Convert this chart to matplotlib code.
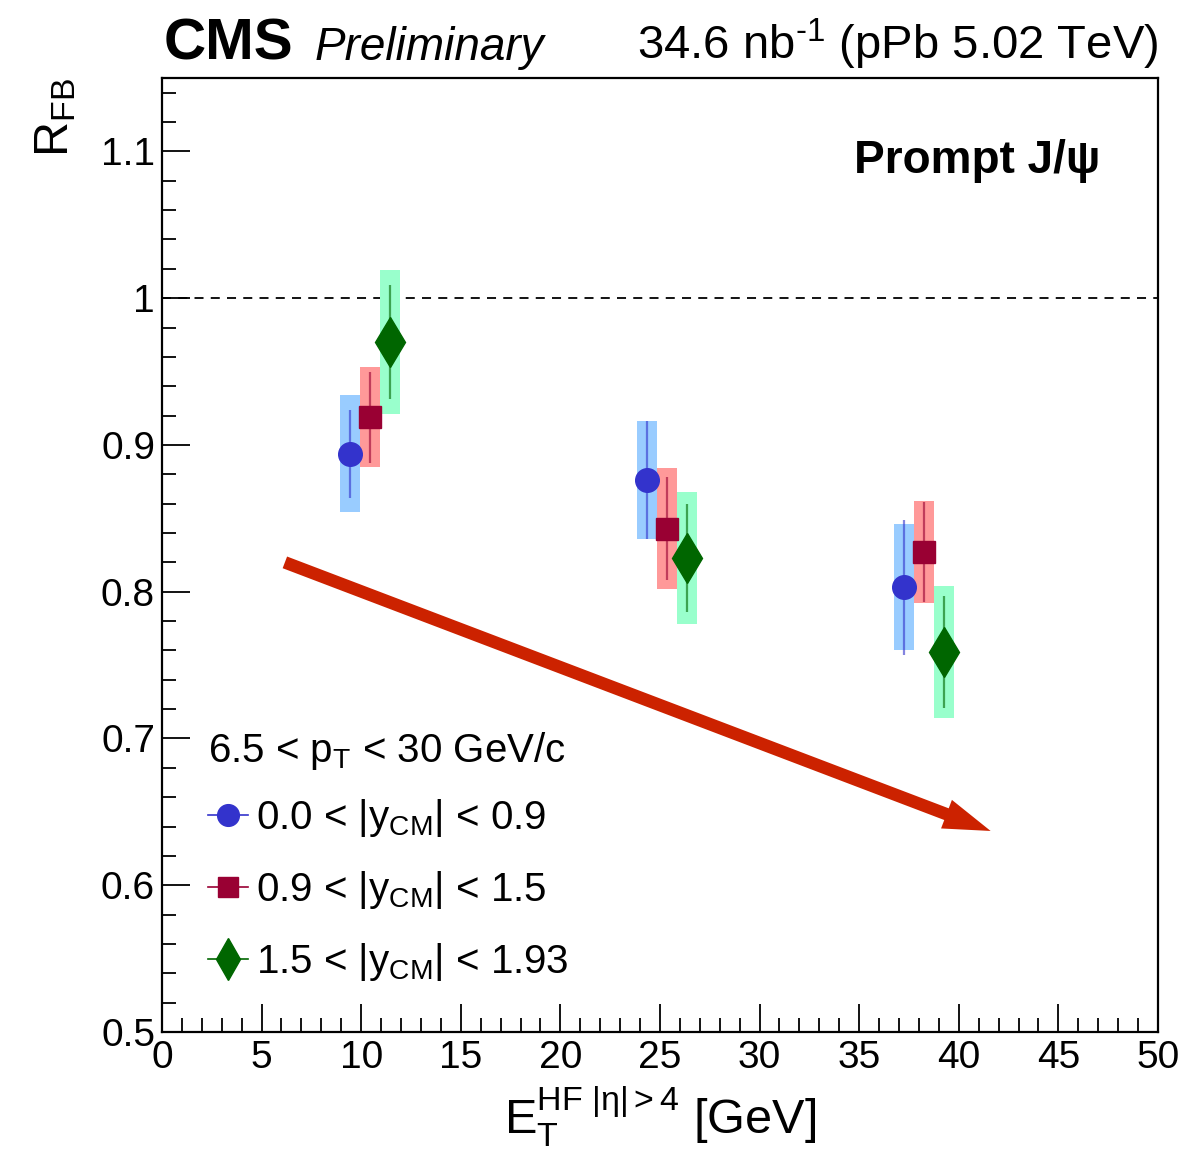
import numpy as np
import matplotlib
matplotlib.use("Agg")
import matplotlib.pyplot as plt
from matplotlib.lines import Line2D

plt.rcParams['font.family'] = ['Liberation Sans', 'DejaVu Sans']
plt.rcParams['mathtext.fontset'] = 'custom'
plt.rcParams['mathtext.rm'] = 'Liberation Sans'
plt.rcParams['mathtext.it'] = 'Liberation Sans:italic'
plt.rcParams['mathtext.bf'] = 'Liberation Sans:bold'

# R_FB vs HF transverse energy, three rapidity bins
et_low  = [9.44, 24.36, 37.25]
et_mid  = [10.44, 25.37, 38.25]
et_high = [11.45, 26.37, 39.27]

rfb_low  = [0.894, 0.876, 0.803]
rfb_mid  = [0.919, 0.843, 0.827]
rfb_high = [0.970, 0.823, 0.759]

stat_low  = [0.030, 0.040, 0.046]
stat_mid  = [0.031, 0.035, 0.034]
stat_high = [0.039, 0.037, 0.038]

sys_low  = [0.040, 0.040, 0.043]
sys_mid  = [0.034, 0.041, 0.035]
sys_high = [0.049, 0.045, 0.045]

labels = [r'0.0 < |y$_{\rm CM}$| < 0.9',
          r'0.9 < |y$_{\rm CM}$| < 1.5',
          r'1.5 < |y$_{\rm CM}$| < 1.93']

series = [
    (et_low,  rfb_low,  stat_low,  sys_low,  'o', 17, '#3333cc', '#99ccff'),
    (et_mid,  rfb_mid,  stat_mid,  sys_mid,  's', 16, '#990033', '#ff9999'),
    (et_high, rfb_high, stat_high, sys_high, 'd', 25, '#006600', '#99ffcc'),
]

# trend arrow endpoints (data coords)
arrow_start = (6.17, 0.820)
arrow_end   = (41.6, 0.637)

fig = plt.figure(figsize=(11.84, 11.68), dpi=100)
ax = fig.add_axes([0.1368, 0.1164, 0.8412, 0.8168])

ax.axhline(1.0, color='black', lw=1.3, ls=(0, (5, 4)), zorder=1)

handles = []
for x, y, st, sy, mk, ms, col, boxcol in series:
    x = np.array(x); y = np.array(y); sy = np.array(sy)
    ax.bar(x, 2 * sy, bottom=y - sy, width=1.0, color=boxcol, edgecolor='none', zorder=2)
    ax.errorbar(x, y, yerr=st, fmt='none', ecolor=col, elinewidth=1.6, alpha=0.6, zorder=3)
    ax.plot(x, y, ls='none', marker=mk, ms=ms, color=col, mec=col, zorder=4)
    handles.append(Line2D([], [], color=col, lw=1.2, marker=mk,
                          ms=ms * 0.92 if mk != 'd' else 21, mec=col))

ax.annotate('', xy=arrow_end, xytext=arrow_start,
            arrowprops=dict(arrowstyle='simple,tail_width=0.45,head_width=1.1,head_length=1.7',
                            mutation_scale=20, color='#cc2200', lw=0,
                            shrinkA=0, shrinkB=0), zorder=5)

ax.set_xlim(0, 50)
ax.set_ylim(0.5, 1.15)
ax.set_xticks(np.arange(0, 51, 5))
ax.set_xticks(np.arange(0, 51, 1), minor=True)
ax.set_yticks([0.5, 0.6, 0.7, 0.8, 0.9, 1.0, 1.1])
ax.set_yticklabels(['0.5', '0.6', '0.7', '0.8', '0.9', '1', '1.1'])
ax.set_yticks(np.arange(0.5, 1.151, 0.02), minor=True)
ax.tick_params(which='both', direction='in', labelsize=28, width=1.3)
ax.tick_params(which='major', length=20)
ax.tick_params(which='minor', length=10)
ax.tick_params(axis='x', pad=6)
ax.tick_params(axis='y', pad=5)
for sp in ax.spines.values():
    sp.set_linewidth(1.6)

ax.set_xlabel(r'$\mathrm{E}_{\rm T}^{\rm HF\ |\eta|>4}$ [GeV]', fontsize=35, labelpad=6)
ax.set_ylabel(r'R$_{\rm FB}$', fontsize=35, loc='top', labelpad=16)

leg = ax.legend(handles, labels, title=r'6.5 < p$_{\rm T}$ < 30 GeV/c',
                loc='lower left', bbox_to_anchor=(0.026, 0.03), frameon=False,
                fontsize=29, title_fontsize=29, handlelength=1.0, handletextpad=0.2,
                labelspacing=0.75, borderpad=0, alignment='left')
leg._legend_box.sep = 18

ax.text(0.942, 0.9, r'Prompt J/ψ', transform=ax.transAxes, ha='right', va='baseline',
        fontsize=33, fontweight='bold')

fig.text(0.138, 0.949, 'CMS', fontsize=42, fontweight='bold', ha='left', va='baseline')
fig.text(0.266, 0.949, 'Preliminary', fontsize=33, fontstyle='italic', ha='left', va='baseline')
fig.text(0.978, 0.949, r'34.6 nb$^{\text{-1}}$ (pPb 5.02 TeV)', fontsize=34, ha='right', va='baseline')

fig.savefig('out.png', dpi=100)
